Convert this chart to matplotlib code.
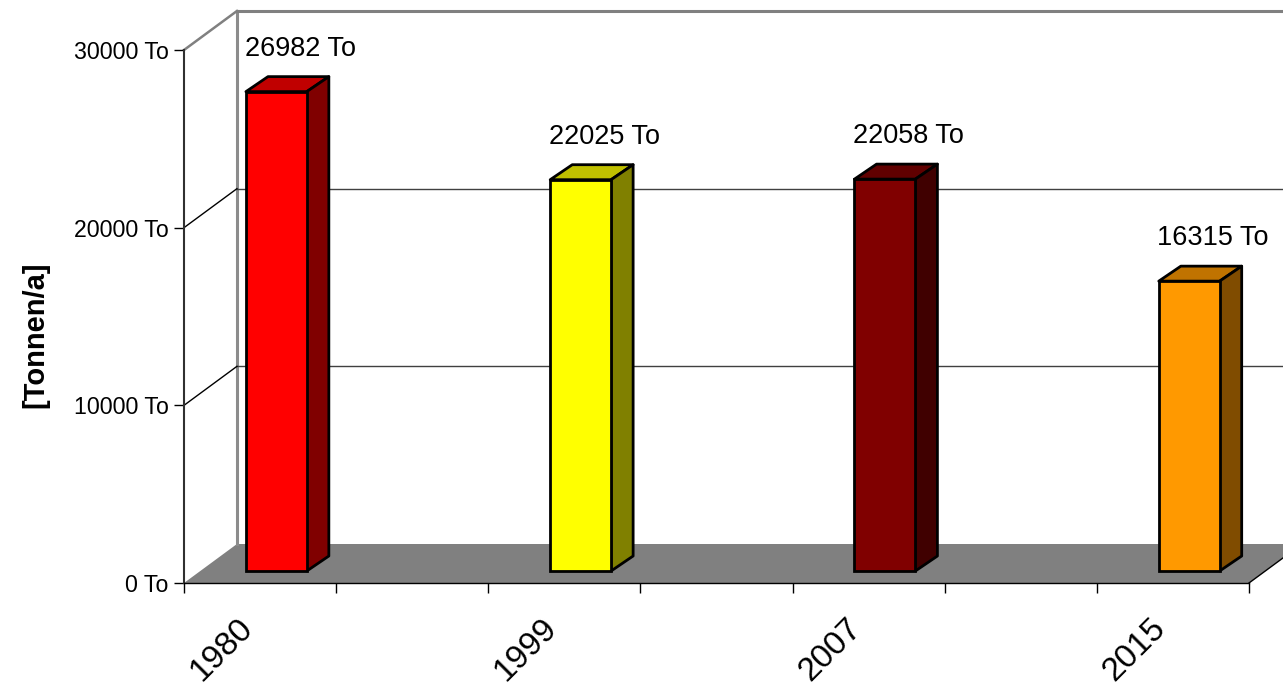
import matplotlib.pyplot as plt
from matplotlib.patches import Polygon

plt.rcParams['font.family'] = ['Liberation Sans', 'DejaVu Sans']

years = ['1980', '1999', '2007', '2015']
tonnes = [26982, 22025, 22058, 16315]
front_colors = ['#ff0000', '#ffff00', '#800000', '#ff9900']
top_colors = ['#c00000', '#c0c000', '#600000', '#c07300']
side_colors = ['#800000', '#808000', '#400000', '#804c00']
yticks = [0, 10000, 20000, 30000]

# category centres on the front plane, axis runs 0..7
centers = [0.5, 2.5, 4.5, 6.5]

# depth of the 3d box and of the bars (in data units)
DX, DY = 0.348, 2195
BX0, BY0 = 0.107, 675      # bar front face offset from front plane
BDX, BDY = 0.145, 844      # bar depth
BW = 0.4

fig = plt.figure(figsize=(12.83, 6.87), dpi=100)
ax = fig.add_axes([184 / 1283, 104 / 687, 1065 / 1283, 533 / 687])
ax.set_xlim(0, 7)
ax.set_ylim(0, 30000)

# floor
floor = Polygon([(0, 0), (7, 0), (7 + DX, DY), (DX, DY)], closed=True,
                facecolor='#808080', edgecolor='none', zorder=1, clip_on=False)
ax.add_patch(floor)
ax.plot([7, 7 + DX], [0, DY], color='black', lw=1, zorder=1.5, clip_on=False)

# back wall edge and grid
ax.plot([DX, DX], [DY, 30000 + DY], color='#8c8c8c', lw=2.2, zorder=1.2, clip_on=False)
ax.plot([DX, 7 + DX], [30000 + DY, 30000 + DY], color='#808080', lw=2.2, zorder=1.2, clip_on=False)
ax.plot([0, DX], [30000, 30000 + DY], color='#808080', lw=1.8, zorder=1.2, clip_on=False)
for v in yticks[1:-1]:
    ax.plot([DX, 7 + DX], [v + DY, v + DY], color='#404040', lw=1, zorder=1.2, clip_on=False)
    ax.plot([0, DX], [v, v + DY], color='black', lw=1, zorder=1.2, clip_on=False)

# bars: front face via ax.bar, top and side as polygons
for c, yr, val, fc, tc, sc in zip(centers, years, tonnes, front_colors, top_colors, side_colors):
    x0 = c + BX0 - BW / 2
    x1 = x0 + BW
    y0 = BY0
    y1 = BY0 + val
    ax.bar(x0, val, width=BW, bottom=y0, align='edge', color=fc,
           edgecolor='black', linewidth=2, zorder=4, clip_on=False)
    top = Polygon([(x0, y1), (x1, y1), (x1 + BDX, y1 + BDY), (x0 + BDX, y1 + BDY)],
                  closed=True, facecolor=tc, edgecolor='black', lw=2, zorder=3,
                  clip_on=False, joinstyle='round')
    side = Polygon([(x1, y0), (x1 + BDX, y0 + BDY), (x1 + BDX, y1 + BDY), (x1, y1)],
                   closed=True, facecolor=sc, edgecolor='black', lw=2, zorder=3,
                   clip_on=False, joinstyle='round')
    ax.add_patch(top)
    ax.add_patch(side)
    ax.annotate(f'{val} To', xy=(x0, y1), xytext=(-1, 31), textcoords='offset points',
                ha='left', va='center', fontsize=19.5, zorder=6)
    ax.annotate(yr, xy=(c, 0), xytext=(-8.5, -29),
                textcoords='offset points', ha='right', va='center',
                rotation=45, rotation_mode='anchor', fontsize=24)

# axes lines and ticks
for s in ['top', 'right']:
    ax.spines[s].set_visible(False)
ax.spines['left'].set_color('#303030')
ax.spines['left'].set_linewidth(1.5)
ax.spines['bottom'].set_color('black')
ax.spines['bottom'].set_linewidth(1)
ax.set_yticks(yticks)
ax.set_yticklabels([f'{v} To' for v in yticks], fontsize=16.7)
ax.set_xticks(range(8))
ax.set_xticklabels([])
ax.tick_params(axis='both', direction='out', length=7, width=1, color='black')
ax.tick_params(axis='y', pad=4)
ax.patch.set_visible(False)

ax.text(-0.14, 0.465, '[Tonnen/a]', transform=ax.transAxes, rotation=90,
        ha='center', va='center', fontsize=21, fontweight='bold')

fig.savefig('out.png', dpi=100)
